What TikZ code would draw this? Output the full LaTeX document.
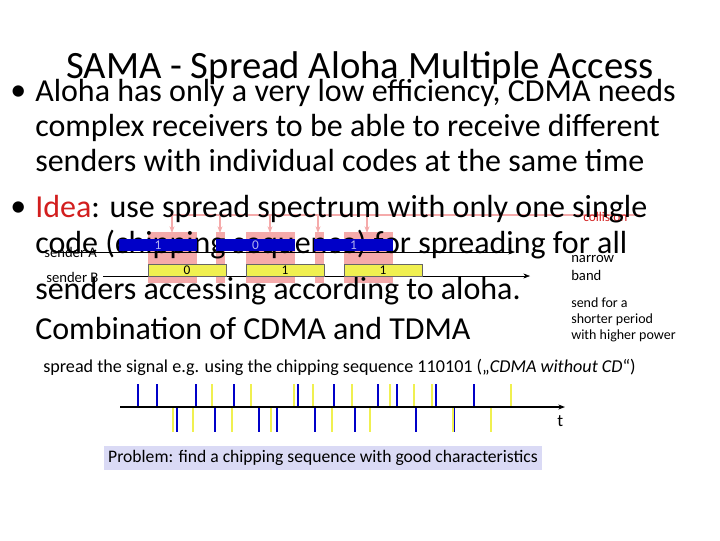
\documentclass[tikz,border=0pt]{standalone}
\usepackage{fontspec}
\setmainfont{Carlito}
\usetikzlibrary{arrows.meta}
\definecolor{idea}{RGB}{210,30,30}
\definecolor{pinkc}{RGB}{245,170,170}
\definecolor{bluec}{RGB}{0,0,200}
\definecolor{yelc}{RGB}{240,240,80}
\definecolor{boxc}{RGB}{218,218,245}
\tikzstyle{bodyText} = [anchor=west, inner sep=0pt, font=\fontsize{24}{28}\selectfont]
\tikzstyle{smallText} = [anchor=west, inner sep=0pt, font=\fontsize{11}{13}\selectfont]
\tikzstyle{bitText} = [inner sep=0pt, font=\fontsize{10}{10}\selectfont]
\tikzstyle{arrow} = [->,>={Stealth[length=5pt]}]
\tikzstyle{blueLine} = [bluec, line width=2.2pt]
\tikzstyle{yelLine} = [yelc, line width=2.2pt]

\begin{document}
\begin{tikzpicture}[x=0.75pt,y=-0.75pt]
    \useasboundingbox (0,0) rectangle (720,540);
    % collision marks behind the text
    \foreach \xa/\xb in {148/197,216/225,246/295,315/324,344/393}
        \fill[pinkc] (\xa,232) rectangle (\xb,283);
    \draw[pinkc, line width=1.2pt] (170,215) -- (640,215);
    \foreach \xp in {172,220,270,318,367}
        \draw[pinkc, line width=1.2pt, arrow] (\xp,215) -- (\xp,233);
    \node (collision)[smallText, text=idea, font=\fontsize{10}{12}\selectfont] at (583,217) {collision};

    % text
    \node (title)[inner sep=0pt, font=\fontsize{29}{32}\selectfont] at (360,68) {SAMA - Spread Aloha Multiple Access};
    \node (b1)[bodyText] at (10,93) {•};
    \node (l1)[bodyText] at (35,93) {Aloha has only a very low efficiency, CDMA needs};
    \node (l2)[bodyText] at (35,128) {complex receivers to be able to receive different};
    \node (l3)[bodyText] at (35,161) {senders with individual codes at the same time};
    \node (b2)[bodyText] at (10,209) {•};
    \node (l4)[bodyText] at (35,209) {\textcolor{idea}{Idea}: use spread spectrum with only one single};
    \node (l5)[bodyText] at (35,245) {code (chipping sequence) for spreading for all};
    \node (l6)[bodyText] at (35,291) {senders accessing according to aloha.};
    \node (l7)[bodyText] at (35,328) {Combination of CDMA and TDMA};

    % sender lines and bits
    \coordinate (aStart) at (60,252);
    \coordinate (aEnd) at (515,252);
    \coordinate (bStart) at (103,276);
    \coordinate (bEnd) at (530,276);
    \draw[arrow] (aStart) -- (aEnd);
    \draw[arrow] (bStart) -- (bEnd);
    \foreach \xa/\xb/\bit in {119/197/1,216/295/0,314/393/1}{
        \fill[bluec] (\xa,239) rectangle (\xb,251);
        \node[bitText, text=white!70!bluec] at ({(\xa+\xb)/2},245) {\bit};
    }
    \foreach \xa/\xb/\bit in {148/226/0,246/324/1,344/422/1}{
        \filldraw[fill=yelc, draw=black!60, very thin] (\xa,264) rectangle (\xb,276);
        \node[bitText] at ({(\xa+\xb)/2},270) {\bit};
    }
    \node (senderA)[smallText] at (44,252) {sender A};
    \node (senderB)[smallText] at (46,277) {sender B};
    \node (narrow)[smallText, align=left] at (571,268) {narrow\\band};
    \node (shorter)[smallText, align=left, font=\fontsize{10.5}{12}\selectfont] at (571,320) {send for a\\shorter period\\with higher power};
    \node (spread)[smallText, font=\fontsize{13.6}{16}\selectfont] at (43,367) {spread the signal e.g. using the chipping sequence 110101 („\textit{CDMA without CD}“)};

    % chip pulses on the time axis
    \coordinate (tStart) at (120,407);
    \coordinate (tEnd) at (565,407);
    \foreach \xp in {138,157,196,234,298,334,378,397,436,474}
        \draw[blueLine] (\xp,407) -- (\xp,384);
    \foreach \xp in {177,215,259,277,315,355,416,454}
        \draw[blueLine] (\xp,407) -- (\xp,432);
    \foreach \xp in {212,251,294,313,352,390,414,432,511}
        \draw[yelLine] (\xp,407) -- (\xp,384);
    \foreach \xp in {173,193,232,271,332,370,453,491}
        \draw[yelLine] (\xp,407) -- (\xp,432);
    \draw[thick, arrow] (tStart) -- (tEnd);
    \node (t)[smallText, font=\fontsize{13}{15}\selectfont] at (557,421) {t};

    \node (problem)[fill=boxc, inner sep=3pt, font=\fontsize{13.2}{15}\selectfont] at (323,458) {Problem: find a chipping sequence with good characteristics};
\end{tikzpicture}
\end{document}
